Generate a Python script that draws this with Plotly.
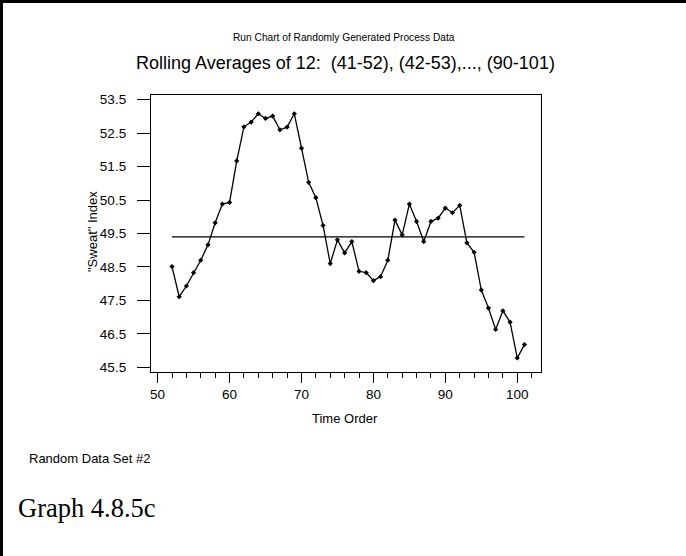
import plotly.graph_objects as go

time_order = list(range(52, 102))
sweat_index = [48.51, 47.61, 47.93, 48.33, 48.70, 49.16, 49.82, 50.38, 50.43, 51.67,
               52.69, 52.83, 53.08, 52.94, 53.01, 52.60, 52.68, 53.08, 52.05, 51.03,
               50.57, 49.74, 48.60, 49.31, 48.92, 49.26, 48.37, 48.33, 48.09, 48.21,
               48.70, 49.90, 49.46, 50.38, 49.86, 49.26, 49.86, 49.96, 50.26, 50.12,
               50.34, 49.22, 48.94, 47.81, 47.27, 46.63, 47.19, 46.85, 45.78, 46.18]
center_value = 49.40
y_ticks = [45.5, 46.5, 47.5, 48.5, 49.5, 50.5, 51.5, 52.5, 53.5]
x_ticks = [50, 60, 70, 80, 90, 100]

W, H = 686, 556
L, R, T, B = 151, 541, 95, 372
pw, ph = R - L, B - T

def px(x):
    return (x - L) / pw

def py(y):
    return (B - y) / ph

SANS = "Liberation Sans Narrow, Arial Narrow, Liberation Sans, Arial"

fig = go.Figure()
fig.add_trace(go.Scatter(x=[time_order[0], time_order[-1]], y=[center_value, center_value],
                         mode="lines", line=dict(color="black", width=1.3),
                         hoverinfo="skip", showlegend=False))
fig.add_trace(go.Scatter(x=time_order, y=sweat_index, mode="lines+markers",
                         line=dict(color="black", width=1.3),
                         marker=dict(symbol="diamond", size=4, color="black"),
                         showlegend=False))

fig.update_layout(
    width=W, height=H,
    margin=dict(l=L, r=W - R, t=T, b=H - B, autoexpand=False),
    paper_bgcolor="white", plot_bgcolor="white",
    showlegend=False,
    font=dict(family=SANS, color="black", size=12),
    xaxis=dict(range=[49.08, 103.3], tickvals=x_ticks, ticks="outside", ticklen=10,
               tickwidth=1, tickcolor="black", showgrid=False, zeroline=False,
               showline=True, linecolor="black", linewidth=1.3, mirror=True,
               tickfont=dict(size=13.5, family=SANS), ticklabelstandoff=0,
               minor=dict(dtick=2, tick0=50, ticks="outside", ticklen=5,
                          tickcolor="black", tickwidth=1, showgrid=False)),
    yaxis=dict(range=[45.36, 53.64], tickvals=y_ticks,
               ticktext=[f"{v:.1f}" for v in y_ticks], ticks="outside", ticklen=13,
               tickwidth=1, tickcolor="black", showgrid=False, zeroline=False,
               showline=True, linecolor="black", linewidth=1.3, mirror=True,
               tickfont=dict(size=13.5, family=SANS), ticklabelstandoff=8),
)

# page border (top and left)
fig.add_shape(type="line", xref="paper", yref="paper", x0=px(0), x1=px(W), y0=py(1.5), y1=py(1.5),
              line=dict(color="black", width=3), layer="above")
fig.add_shape(type="line", xref="paper", yref="paper", x0=px(1.5), x1=px(1.5), y0=py(0), y1=py(H),
              line=dict(color="black", width=3), layer="above")

def note(text, x, y, size, family=SANS, angle=0, xanchor="center"):
    fig.add_annotation(text=text, xref="paper", yref="paper", x=px(x), y=py(y),
                       xanchor=xanchor, yanchor="middle", showarrow=False, textangle=angle,
                       font=dict(size=size, family=family, color="black"))

note("Run Chart of Randomly Generated Process Data", 344, 38, 10.2)
note("Rolling Averages of 12:  (41-52), (42-53),..., (90-101)", 345, 63, 18)
note("Time Order", 345, 418, 13)
note('"Sweat" Index', 92, 232, 13, angle=-90)
note("Random Data Set #2", 27, 458, 13, xanchor="left")
note("Graph 4.8.5c", 16, 508, 26.5, family="Liberation Serif, Times New Roman, serif", xanchor="left")

fig.write_html("out.html", config={"displayModeBar": False},
               post_script="document.body.style.margin='0';document.body.style.overflow='hidden';")
